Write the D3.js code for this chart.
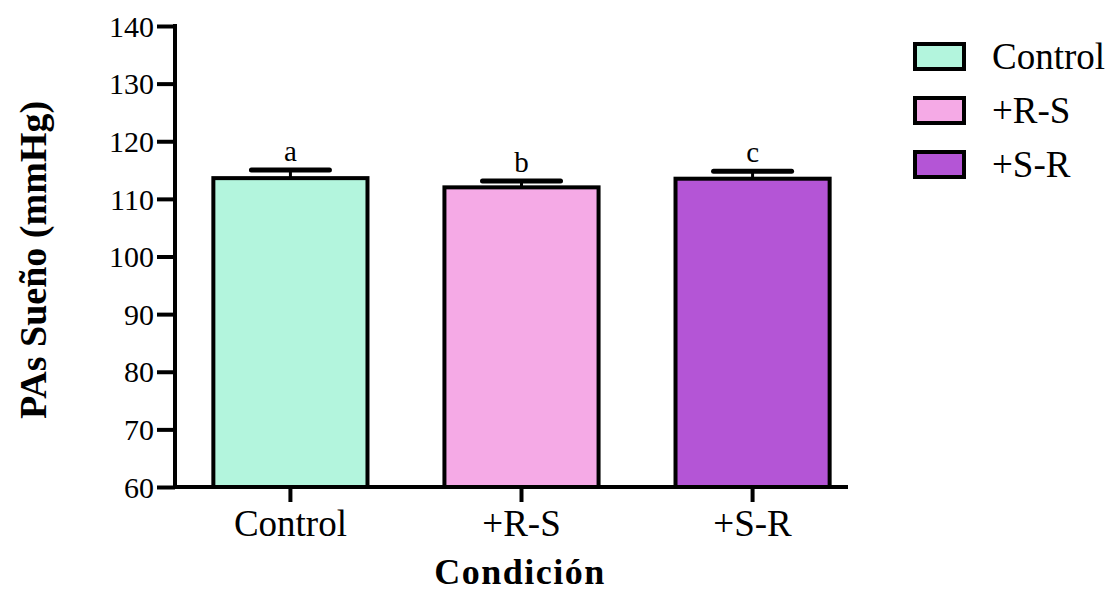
<!DOCTYPE html>
<html><head><meta charset="utf-8">
<script src="https://cdn.jsdelivr.net/npm/d3@7"></script>
<style>body{margin:0;background:#fff}svg{display:block}</style>
</head><body>
<svg id="chart" width="1117" height="593"></svg>
<script>
const categories = ["Control", "+R-S", "+S-R"];
const means = [113.6, 112.0, 113.5];
const errors = [1.4, 1.1, 1.3];
const letters = ["a", "b", "c"];
const colors = ["#b3f5dd", "#f5aae6", "#b455d6"];
const yTicks = [60, 70, 80, 90, 100, 110, 120, 130, 140];

const FONT = '"Liberation Serif"';
const svg = d3.select("#chart");

const x = d3.scaleBand().domain(categories).range([175, 868]).paddingInner(0.333).paddingOuter(0.166);
const y = d3.scaleLinear().domain([60, 140]).range([487, 26]);

// bars
svg.selectAll("rect.bar").data(categories).enter().append("rect")
  .attr("x", d => x(d)).attr("width", x.bandwidth())
  .attr("y", (d, i) => y(means[i])).attr("height", (d, i) => y(60) - y(means[i]))
  .attr("fill", (d, i) => colors[i]).attr("stroke", "#000").attr("stroke-width", 4);

// error bars
const capHalf = 39;
categories.forEach((c, i) => {
  const cx = x(c) + x.bandwidth() / 2;
  svg.append("line").attr("x1", cx).attr("x2", cx).attr("y1", y(means[i])).attr("y2", y(means[i] + errors[i]))
    .attr("stroke", "#000").attr("stroke-width", 3);
  svg.append("line").attr("x1", cx - capHalf).attr("x2", cx + capHalf).attr("y1", y(means[i] + errors[i])).attr("y2", y(means[i] + errors[i]))
    .attr("stroke", "#000").attr("stroke-width", 5).attr("stroke-linecap", "round");
  svg.append("text").attr("x", cx).attr("y", y(means[i] + errors[i]) - 9)
    .attr("text-anchor", "middle").style("font-family", FONT).style("font-size", "29px").style("fill", "#000").text(letters[i]);
});

// y axis
const yAxis = d3.axisLeft(y).tickValues(yTicks).tickSize(18).tickPadding(3).tickSizeOuter(0);
const gy = svg.append("g").attr("transform", "translate(175,0)").call(yAxis);
gy.attr("font-family", null);
gy.select(".domain").attr("stroke-width", 4).attr("d", `M0,${y(140) - 2}V${y(60) + 2}`);
gy.selectAll(".tick line").attr("stroke-width", 4);
gy.selectAll(".tick text").style("font-family", FONT).style("font-size", "30px").style("fill", "#000").attr("dy", "0.34em");

// x axis
const xAxis = d3.axisBottom(x).tickSize(15).tickPadding(8).tickSizeOuter(0);
const gx = svg.append("g").attr("transform", "translate(0,487)").call(xAxis);
gx.attr("font-family", null);
gx.select(".domain").attr("stroke-width", 4).attr("d", "M175,0H848");
gx.selectAll(".tick line").attr("stroke-width", 4);
gx.selectAll(".tick text").style("font-family", FONT).style("font-size", "37px").style("fill", "#000");

// axis titles
svg.append("text").attr("x", 520).attr("y", 584).attr("text-anchor", "middle")
  .style("font-family", FONT).style("font-weight", "bold").style("font-size", "36px").style("letter-spacing", "1.5px").text("Condición");
svg.append("text").attr("transform", "translate(46,260) rotate(-90)").attr("text-anchor", "middle")
  .style("font-family", FONT).style("font-weight", "bold").style("font-size", "38px").text("PAs Sueño (mmHg)");

// legend
const lg = svg.append("g");
categories.forEach((c, i) => {
  const ly = 44 + i * 54;
  lg.append("rect").attr("x", 915).attr("y", ly).attr("width", 49).attr("height", 25)
    .attr("fill", colors[i]).attr("stroke", "#000").attr("stroke-width", 4);
  lg.append("text").attr("x", 992).attr("y", ly + 25).style("font-family", FONT).style("font-size", "37px").style("fill", "#000").text(c);
});
</script>
</body></html>
